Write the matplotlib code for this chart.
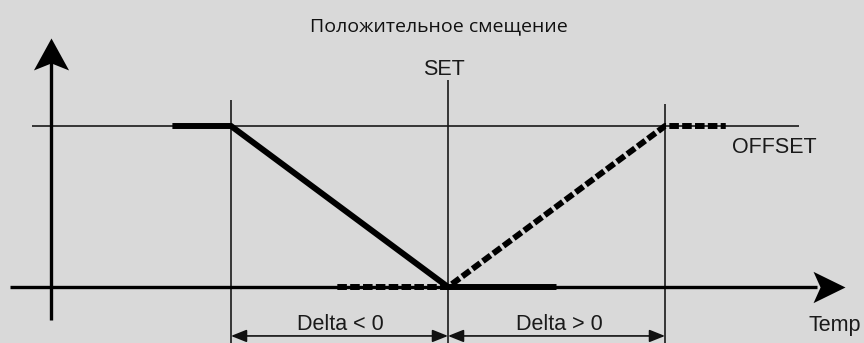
import matplotlib
matplotlib.use("Agg")
import matplotlib.pyplot as plt

# ---- data (x in units of Delta around SET, y in units of OFFSET) ----
boundary_x = [-1.0, 0.0, 1.0]          # start of Delta<0, SET, end of Delta>0
boundary_top = [1.161, 1.286, 1.137]   # top ends of the vertical guide lines
offset_level = 1.0
solid_x = [-1.27, -1.0, 0.0, 0.50]     # Delta < 0 characteristic
solid_y = [1.0, 1.0, 0.0, 0.0]
dashed_x = [-0.51, 0.0, 1.0, 1.28]     # Delta > 0 characteristic
dashed_y = [0.0, 0.0, 1.0, 1.0]
title = "Положительное смещение"
set_label = "SET"
offset_label = "OFFSET"
temp_label = "Temp"
delta_labels = ["Delta < 0", "Delta > 0"]

BG = "#d9d9d9"
fig = plt.figure(figsize=(8.64, 3.43), dpi=100, facecolor=BG)
ax = fig.add_axes([0, 0, 1, 1])
ax.set_facecolor(BG)
ax.set_xlim(-448 / 217, 416 / 217)
ax.set_ylim(-56 / 161, 287 / 161)
ax.axis("off")

thin = dict(color="#1a1a1a", lw=1.2, solid_capstyle="butt")
# OFFSET horizontal guide
ax.plot([-1.917, 1.618], [offset_level, offset_level], **thin)
# vertical guides
for bx, top in zip(boundary_x, boundary_top):
    ax.plot([bx, bx], [-0.40, top], **thin)

# axes
ax.plot([-2.018, 1.70], [0, 0], color="black", lw=2.4, solid_capstyle="butt")
ax.plot([-1.8295, -1.8295], [-0.205, 1.45], color="black", lw=2.4, solid_capstyle="butt")
up_head = [(0, 0), (0.55, -1), (0, -0.78), (-0.55, -1), (0, 0)]
right_head = [(0, 0), (-1, -0.49), (-0.78, 0), (-1, 0.49), (0, 0)]
ax.plot([-1.8295], [1.547], marker=up_head, ms=46, color="black", mew=0)
ax.plot([1.8295], [0], marker=right_head, ms=46, color="black", mew=0)

# characteristic lines
ax.plot(solid_x, solid_y, color="black", lw=4.3, solid_capstyle="butt",
        solid_joinstyle="miter")
ax.plot(dashed_x, dashed_y, color="black", lw=4.3, ls=(0, (1.6, 0.55)),
        dash_capstyle="butt")

# Delta double arrows
ya = -0.304
for x0, x1 in [(boundary_x[0], boundary_x[1]), (boundary_x[1], boundary_x[2])]:
    ax.annotate("", xy=(x1, ya), xytext=(x0, ya),
                arrowprops=dict(arrowstyle="<|-|>,head_length=0.95,head_width=0.38",
                                mutation_scale=10, lw=1.2, color="#111111",
                                shrinkA=0, shrinkB=0))

lab = dict(family="Liberation Sans", fontsize=15.5, color="#1a1a1a")
ax.text(-0.018, 1.317, set_label, ha="center", va="baseline", **lab)
ax.text(1.502, 0.832, offset_label, ha="center", va="baseline", **lab)
ax.text(1.659, -0.273, temp_label, ha="left", va="baseline", **lab)
ax.text(-0.498, -0.267, delta_labels[0], ha="center", va="baseline", **lab)
ax.text(0.512, -0.267, delta_labels[1], ha="center", va="baseline", **lab)

fig.text(0.5075, 1 - 31 / 343, title, ha="center", va="baseline",
         family="Open Sans", fontsize=14, color="#111111")

fig.savefig("out.png", dpi=100, facecolor=BG)
